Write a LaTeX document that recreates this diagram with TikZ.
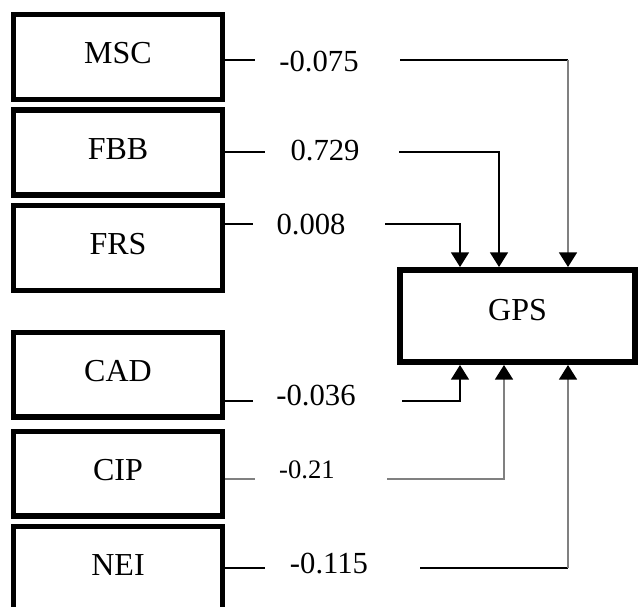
\documentclass[tikz,border=0pt]{standalone}
\usepackage{fontspec}
\setmainfont{Liberation Serif}
\usetikzlibrary{arrows.meta}
\begin{document}
\begin{tikzpicture}[x=0.75pt,y=-0.75pt,
  box/.style={draw, line width=4.1pt, inner sep=0pt,
    minimum width=156.4pt, minimum height=63.4pt,
    font=\fontsize{24}{28}\selectfont, text height=16pt, text depth=6pt},
  gpsbox/.style={draw, line width=4.5pt, inner sep=0pt,
    minimum width=176.25pt, minimum height=69pt,
    font=\fontsize{24}{28}\selectfont, text height=16pt, text depth=9pt},
  coef/.style={inner sep=0pt, font=\fontsize{23}{26}\selectfont, text depth=0pt},
  coefsmall/.style={inner sep=0pt, font=\fontsize{20}{24}\selectfont, text depth=0pt},
  conn/.style={line width=1.1pt, black},
  gconn/.style={line width=1.4pt, black!50},
  tip/.style={-{Triangle[width=13.5pt,length=11pt,color=black]}}]
\useasboundingbox (0,0) rectangle (641,606);
\clip (0,0) rectangle (641,606);

% boxes
\node[box] (msc) at (118,57) {MSC};
\node[box] (fbb) at (118,152.5) {FBB};
\node[box] (frs) at (118,248) {FRS};
\node[box] (cad) at (118,374.5) {CAD};
\node[box] (cip) at (118,473.5) {CIP};
\node[box] (nei) at (118,569) {NEI};
\node[gpsbox] (gps) at (517.5,316) {GPS};

% coefficient labels
\node[coef] (l1) at (319,61) {-0.075};
\node[coef] (l2) at (325,150) {0.729};
\node[coef] (l3) at (311,224) {0.008};
\node[coef] (l4) at (316,395) {-0.036};
\node[coefsmall] (l5) at (307,470) {-0.21};
\node[coef] (l6) at (329,563) {-0.115};

% connector points
\coordinate (s1) at (255,60);  \coordinate (t1) at (400,60);  \coordinate (k1) at (568,60);
\coordinate (s2) at (265,152); \coordinate (t2) at (399,152); \coordinate (k2) at (499,152);
\coordinate (s3) at (253,224); \coordinate (t3) at (385,224); \coordinate (k3) at (460,224);
\coordinate (s4) at (253,401); \coordinate (t4) at (402,401); \coordinate (k4) at (460,401);
\coordinate (s5) at (255,479); \coordinate (t5) at (387,479); \coordinate (k5) at (504,479);
\coordinate (s6) at (265,568); \coordinate (t6) at (420,568); \coordinate (k6) at (568,568);

% MSC
\draw[conn] (msc.east |- s1) -- (s1);
\draw[conn] (t1) -- (k1);
\draw[gconn, tip] (k1) -- (gps.north -| k1);
% FBB
\draw[conn] (fbb.east |- s2) -- (s2);
\draw[conn, tip] (t2) -| (gps.north -| k2);
% FRS
\draw[conn] (frs.east |- s3) -- (s3);
\draw[conn, tip] (t3) -| (gps.north -| k3);
% CAD
\draw[conn] (cad.east |- s4) -- (s4);
\draw[conn, tip] (t4) -| (gps.south -| k4);
% CIP
\draw[gconn] (cip.east |- s5) -- (s5);
\draw[gconn, tip] (t5) -| (gps.south -| k5);
% NEI
\draw[conn] (nei.east |- s6) -- (s6);
\draw[conn] (t6) -- (k6);
\draw[gconn, tip] (k6) -- (gps.south -| k6);
\end{tikzpicture}
\end{document}
